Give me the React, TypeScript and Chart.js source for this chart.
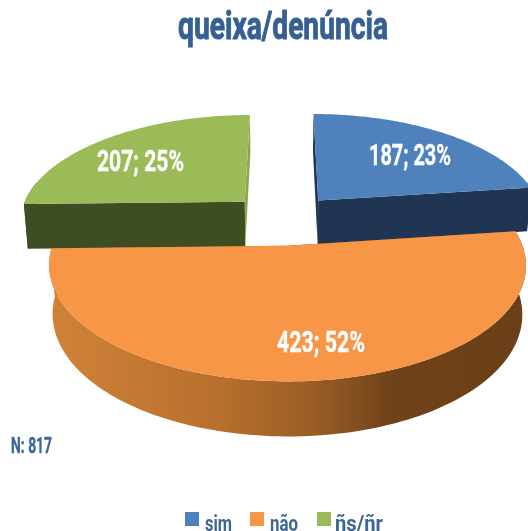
import React, { useEffect, useRef } from "react";
import { Chart, registerables } from "chart.js";

Chart.register(...registerables);

const categories = ["sim", "não", "ñs/ñr"];
const values = [187, 423, 207];
const percents = [23, 52, 25];
const sliceColors = ["#4F81BD", "#F79646", "#9BBB59"];
const sampleNote = "N: 817";
const titleText = "queixa/denúncia";

const FACE = "Roboto, sans-serif";
const TITLE_BLUE = "#376092";
const LEGEND_BLUE = "#3E6797";

const P = 0.16;
const Q = 0.155;
const K = 0.466;
const CX = 283;
const CY = 219.3;
const DEPTH = 46;

const wallFlat = ["#1F3552", "#7A4A1E", "#3F4E22"];
const endFace = ["#1F3552", "#7A4A1E", "#8AA84E"];
const labelBoxes: [number, number, number][] = [[369, 165, 82], [277, 352, 88], [97, 171, 87]];
const legendBoxes: [number, number, number][] = [[185, 205, 27], [250, 270, 28], [317, 335, 48]];

function project(X: number, Y: number, R: number, down: number) {
  const w = 1 / (1 - (P * Y) / R);
  let x = CX + X * w;
  let y = CY + (K * Y) / (1 - (Q * Y) / R);
  if (down) {
    x = CX + (x - CX) * (1 - 0.015);
    y += DEPTH * (1 + (0.158 * Y) / R);
  }
  return { x, y };
}

function fitText(
  ctx: CanvasRenderingContext2D,
  text: string,
  left: number,
  baseline: number,
  width: number,
  font: string,
  color: string,
  thicken: number
) {
  ctx.save();
  ctx.font = font;
  ctx.textAlign = "left";
  ctx.textBaseline = "alphabetic";
  const m = ctx.measureText(text);
  const sx = width / m.width;
  ctx.translate(left, baseline);
  ctx.scale(sx, 1);
  ctx.fillStyle = color;
  ctx.fillText(text, 0, 0);
  if (thicken > 0) {
    ctx.strokeStyle = color;
    ctx.lineWidth = thicken;
    ctx.lineJoin = "round";
    ctx.strokeText(text, 0, 0);
  }
  ctx.restore();
}

const pie3d = {
  id: "pie3d",
  beforeDatasetDraw(chart: any) {
    const meta = chart.getDatasetMeta(0);
    const ctx: CanvasRenderingContext2D = chart.ctx;
    const arcs = meta.data as any[];
    const order = [2, 0, 1];
    ctx.save();
    for (const i of order) {
      const arc = arcs[i];
      const { startAngle, endAngle, outerRadius: R } = arc.getProps(["startAngle", "endAngle", "outerRadius"], true);
      const offset = arc.options.offset;
      const mid = (startAngle + endAngle) / 2;
      const ox = Math.cos(mid) * offset;
      const oy = Math.sin(mid) * offset;
      const at = (a: number, r: number, down: number) =>
        project(ox + Math.cos(a) * r, oy + Math.sin(a) * r, R, down);
      const steps = 120;
      const rim = (down: number) => {
        const pts = [];
        for (let s = 0; s <= steps; s++) {
          pts.push(at(startAngle + ((endAngle - startAngle) * s) / steps, R, down));
        }
        return pts;
      };
      const poly = (pts: { x: number; y: number }[], fill: any) => {
        ctx.beginPath();
        pts.forEach((p, n) => (n ? ctx.lineTo(p.x, p.y) : ctx.moveTo(p.x, p.y)));
        ctx.closePath();
        ctx.fillStyle = fill;
        ctx.fill();
      };
      const top = rim(0);
      const bottom = rim(1);
      poly([at(startAngle, 0, 0), at(startAngle, R, 0), at(startAngle, R, 1), at(startAngle, 0, 1)], wallFlat[i]);
      poly([at(endAngle, 0, 0), at(endAngle, R, 0), at(endAngle, R, 1), at(endAngle, 0, 1)], endFace[i]);
      const wall = ctx.createLinearGradient(50, 0, 526, 0);
      wall.addColorStop(0, "#D08238");
      wall.addColorStop(0.35, "#B8702E");
      wall.addColorStop(0.55, "#9A5E26");
      wall.addColorStop(0.72, "#6F4219");
      wall.addColorStop(1, "#6B3F17");
      const fill = i === 1 ? wall : wallFlat[i];
      const front: { x: number; y: number }[] = [];
      const frontLow: { x: number; y: number }[] = [];
      for (let s = 0; s <= steps; s++) {
        const a = startAngle + ((endAngle - startAngle) * s) / steps;
        if (Math.sin(a) > -0.2) {
          front.push(top[s]);
          frontLow.push(bottom[s]);
        }
      }
      if (front.length) poly([...front, ...frontLow.reverse()], fill);
      poly([at(0, 0, 0), ...top], arc.options.backgroundColor);
    }
    ctx.restore();

    values.forEach((v, i) => {
      const [l, b, w] = labelBoxes[i];
      fitText(ctx, `${v}; ${percents[i]}%`, l, b, w, "bold 29px " + FACE, "#FFFFFF", 0.4);
    });
    fitText(ctx, titleText, 178, 39, 210, "bold 39px " + FACE, TITLE_BLUE, 1);
    fitText(ctx, sampleNote, 11, 453, 41, "bold 22px " + FACE, LEGEND_BLUE, 0.4);
    categories.forEach((c, i) => {
      const [bx, tx, tw] = legendBoxes[i];
      ctx.fillStyle = sliceColors[i];
      ctx.fillRect(bx, 512, 14, 14);
      fitText(ctx, c, tx, 531, tw, "bold 22px " + FACE, LEGEND_BLUE, 0);
    });
    return false;
  },
};

export default function App() {
  const ref = useRef<HTMLCanvasElement>(null);
  useEffect(() => {
    document.body.style.margin = "0";
    const chart = new Chart(ref.current as HTMLCanvasElement, {
      type: "pie",
      data: {
        labels: categories,
        datasets: [
          {
            data: values,
            backgroundColor: sliceColors,
            borderWidth: 0,
            offset: 55,
            radius: 226,
          } as any,
        ],
      },
      options: {
        animation: false,
        responsive: false,
        plugins: {
          title: { display: false },
          legend: { display: false },
          tooltip: { enabled: false },
        },
      },
      plugins: [pie3d],
    } as any);
    return () => chart.destroy();
  }, []);
  return <canvas ref={ref} width={528} height={531} style={{ display: "block" }} />;
}
